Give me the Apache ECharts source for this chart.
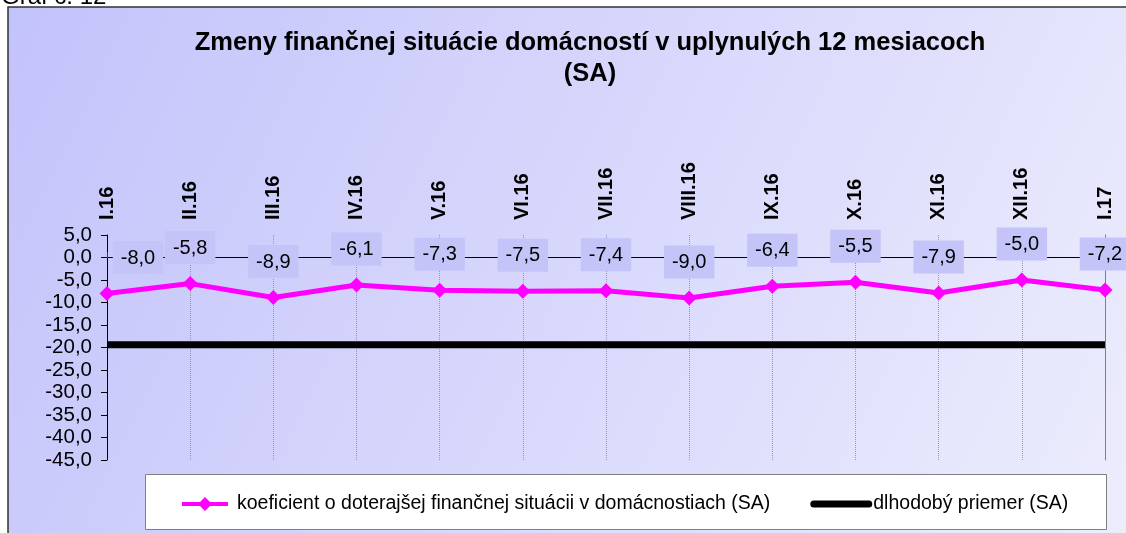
<!DOCTYPE html>
<html>
<head>
<meta charset="utf-8">
<script src="https://cdn.jsdelivr.net/npm/echarts@6/dist/echarts.min.js"></script>
<style>
html,body{margin:0;padding:0;background:#fff;}
#c{width:1126px;height:533px;}
</style>
</head>
<body>
<div id="c"></div>
<script>
var categories = ['I.16','II.16','III.16','IV.16','V.16','VI.16','VII.16','VIII.16','IX.16','X.16','XI.16','XII.16','I.17'];
var coefValues = [-8.0,-5.8,-8.9,-6.1,-7.3,-7.5,-7.4,-9.0,-6.4,-5.5,-7.9,-5.0,-7.2];
var longTermAvg = [-19.4,-19.4,-19.4,-19.4,-19.4,-19.4,-19.4,-19.4,-19.4,-19.4,-19.4,-19.4,-19.4];
var seriesNames = ['koeficient o doterajšej finančnej situácii v domácnostiach (SA)','dlhodobý priemer (SA)'];
var titleText = 'Zmeny finančnej situácie domácností v uplynulých 12 mesiacoch\n(SA)';

var fmt = function(v){ return v.toFixed(1).replace('.', ','); };
var font = '"Liberation Sans", Arial, sans-serif';

// first label sits to the right of its point (as in the original)
var coefData = coefValues.map(function(v, i){
  var item = {value: v};
  if (i === 0) item.label = {offset: [31, 0]};
  return item;
});

var chart = echarts.init(document.getElementById('c'));
chart.setOption({
  backgroundColor: '#ffffff',
  animation: false,
  textStyle: {fontFamily: font},
  graphic: [
    {type:'text', left:1, top:-15, z:-20, style:{text:'Graf č. 12', font:'24px '+font, fill:'#000'}},
    {type:'rect', z:-10, shape:{x:8,y:7,width:1130,height:540},
     style:{fill:new echarts.graphic.LinearGradient(0,0,1,1,[{offset:0,color:'#c3c3fb'},{offset:1,color:'#ededfd'}]), stroke:'#333', lineWidth:1.5}},
    {type:'rect', z:1, shape:{x:145.5,y:474.5,width:961,height:55}, style:{fill:'#ffffff', stroke:'#808080', lineWidth:1}}
  ],
  title: {
    text: titleText, left: 585, top: 22, textAlign:'center',
    textStyle: {fontFamily: font, fontSize: 25.5, fontWeight: 'bold', color: '#000', lineHeight: 31}
  },
  legend: {
    z: 5,
    top: 489, left: 177,
    itemGap: 40, itemWidth: 62, itemHeight: 14,
    textStyle: {fontFamily: font, fontSize: 19.5, color:'#000', padding:[0,0,0,-4]},
    data: [
      {name: seriesNames[0], icon: 'path://M0,5 H18 L23,0 L28,5 H46 V9 H28 L23,14 L18,9 H0 Z'},
      {name: seriesNames[1], icon: 'path://M3.5,0 H58.5 A3.5,3.5 0 0 1 58.5,7 H3.5 A3.5,3.5 0 0 1 3.5,0 Z'}
    ]
  },
  grid: {left: 107, right: 21, top: 235, bottom: 73},
  xAxis: [{
    type: 'category', position: 'top', boundaryGap: false, data: categories,
    axisLine: {lineStyle:{color:'#000', width:1}},
    axisTick: {show:true, length:6, lineStyle:{color:'#888', type:'dotted'}},
    axisLabel: {rotate: 90, fontFamily: font, fontSize: 20, fontWeight:'bold', color:'#000', margin: 15},
    splitLine: {show:true, lineStyle:{color:'#999', type:'dotted', width:1}}
  },{
    type: 'category', position: 'bottom', boundaryGap: false, data: categories,
    axisLine: {lineStyle:{color:'#000', width:1}},
    axisTick: {show:false}, axisLabel: {show:false}, splitLine:{show:false}
  }],
  yAxis: [{
    type: 'value', min: -45, max: 5, interval: 5,
    axisLine: {show:true, lineStyle:{color:'#000', width:1}},
    axisTick: {show:true, length:6, lineStyle:{color:'#000'}},
    axisLabel: {fontFamily: font, fontSize: 20.5, color:'#000', margin: 15, formatter: fmt},
    splitLine: {show:false}
  },{
    type: 'value', min: -45, max: 5, interval: 5, position:'right',
    axisLine: {show:true, lineStyle:{color:'#808080', width:1}},
    axisTick: {show:false}, axisLabel: {show:false}, splitLine:{show:false}
  }],
  series: [
    {
      name: seriesNames[0], type: 'line', data: coefData,
      lineStyle: {color:'#ff00ff', width: 5},
      itemStyle: {color:'#ff00ff'},
      symbol: 'diamond', symbolSize: 15, showAllSymbol: true,
      z: 3,
      label: {
        show: true, position: 'top', distance: 12,
        formatter: function(p){ return fmt(p.value); },
        fontFamily: font, fontSize: 20, color:'#000',
        backgroundColor: '#c4c4f8', padding: [7, 8, 6, 8]
      }
    },
    {
      name: seriesNames[1], type: 'line', data: longTermAvg,
      lineStyle: {color:'#000', width: 7},
      itemStyle: {color:'#000'},
      symbol: 'none', z: 2
    }
  ]
});
</script>
</body>
</html>
